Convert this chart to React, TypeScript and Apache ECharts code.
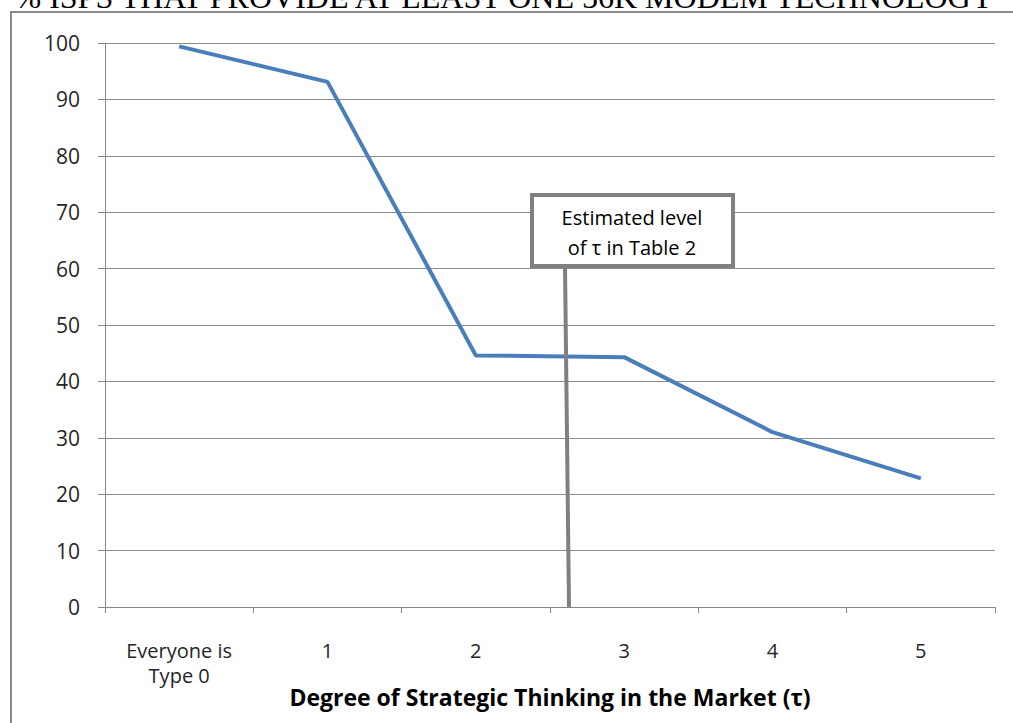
import React, { useEffect, useRef } from "react";
import * as echarts from "echarts";

const categories = ["Everyone is\nType 0", "1", "2", "3", "4", "5"];
const shareValues = [99.4, 93.1, 44.6, 44.3, 31.0, 22.8];
const yTicks = { min: 0, max: 100, interval: 10 };
const titleText = "% ISPS THAT PROVIDE AT LEAST ONE 56K MODEM TECHNOLOGY";
const xAxisName = "Degree of Strategic Thinking in the Market (\u03c4)";
const noteLines = ["Estimated level", "of \u03c4 in Table 2"];

export default function App() {
  const ref = useRef<HTMLDivElement>(null);
  useEffect(() => {
    document.body.style.margin = "0";
    const chart = echarts.init(ref.current!, undefined, { renderer: "svg" });
    const labelFont = "'Open Sans', 'Noto Sans', sans-serif";
    chart.setOption({
      animation: false,
      backgroundColor: "#ffffff",
      grid: { left: 105, right: 18, top: 43, bottom: 116 },
      xAxis: {
        type: "category",
        data: categories,
        boundaryGap: true,
        axisLine: { lineStyle: { color: "#868686", width: 1 } },
        axisTick: { show: true, length: 6, lineStyle: { color: "#868686" } },
        axisLabel: {
          color: "#262626",
          fontSize: 20,
          fontFamily: labelFont,
          margin: 31,
          lineHeight: 25,
        },
        name: xAxisName,
        nameLocation: "middle",
        nameGap: 78,
        nameMoveOverlap: false,
        nameTextStyle: {
          color: "#000000",
          fontSize: 23,
          fontWeight: "bold",
          fontFamily: labelFont,
        },
      },
      yAxis: {
        type: "value",
        min: yTicks.min,
        max: yTicks.max,
        interval: yTicks.interval,
        axisLine: { show: true, lineStyle: { color: "#868686", width: 1 } },
        axisTick: { show: true, length: 7, lineStyle: { color: "#868686" } },
        axisLabel: {
          color: "#262626",
          fontSize: 21,
          fontFamily: labelFont,
          margin: 25,
        },
        splitLine: { show: true, lineStyle: { color: "#8c8c8c", width: 1 } },
      },
      series: [
        {
          type: "line",
          data: shareValues,
          symbol: "none",
          lineStyle: { color: "#4a7ebb", width: 4 },
          z: 3,
        },
      ],
      graphic: [
        {
          type: "text",
          left: "center",
          top: -19,
          style: {
            text: titleText,
            font: "32px 'Liberation Serif', serif",
            fill: "#000",
          },
        },
        {
          type: "rect",
          shape: { x: 11, y: 12, width: 1100, height: 800 },
          style: { fill: "none", stroke: "#8a8a8a", lineWidth: 2 },
          silent: true,
        },
        {
          type: "line",
          shape: { x1: 565, y1: 266, x2: 569, y2: 607 },
          style: { stroke: "#808080", lineWidth: 4 },
          z: 10,
        },
        {
          type: "rect",
          shape: { x: 532, y: 195, width: 201, height: 71 },
          style: { fill: "#ffffff", stroke: "#808080", lineWidth: 4 },
          z: 10,
        },
        {
          type: "text",
          x: 632,
          y: 217,
          style: {
            text: noteLines[0],
            align: "center",
            verticalAlign: "middle",
            font: "20px " + labelFont,
            fill: "#000",
          },
          z: 11,
        },
        {
          type: "text",
          x: 632,
          y: 247,
          style: {
            text: noteLines[1],
            align: "center",
            verticalAlign: "middle",
            font: "20px " + labelFont,
            fill: "#000",
          },
          z: 11,
        },
      ],
    });
    return () => chart.dispose();
  }, []);
  return <div ref={ref} style={{ width: 1013, height: 723 }} />;
}
